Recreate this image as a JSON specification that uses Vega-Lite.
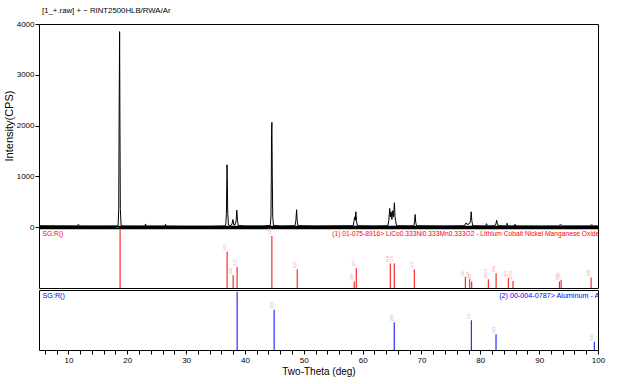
{
  "$schema": "https://vega.github.io/schema/vega-lite/v6.json",
  "background": "white",
  "padding": {"left": 2, "top": 6, "right": 5, "bottom": 5},
  "spacing": 0,
  "bounds": "flush",
  "config": {
    "font": "Liberation Sans",
    "view": {"stroke": "black", "strokeWidth": 1},
    "axis": {"labelColor": "black", "titleColor": "black", "tickColor": "black", "domainColor": "black", "grid": false, "titleFontWeight": "normal", "labelOverlap": false, "labelFlush": false},
    "title": {"fontWeight": "normal", "color": "black"}
  },
  "datasets": {
    "spectrum": [
      {"tt": 5.0, "i": 25}, {"tt": 8.0, "i": 22}, {"tt": 11.5, "i": 20}, {"tt": 11.7, "i": 55}, {"tt": 11.9, "i": 20},
      {"tt": 15.0, "i": 18}, {"tt": 18.2, "i": 20}, {"tt": 18.45, "i": 30}, {"tt": 18.55, "i": 360}, {"tt": 18.62, "i": 2280},
      {"tt": 18.7, "i": 3850}, {"tt": 18.75, "i": 2200}, {"tt": 18.82, "i": 360}, {"tt": 18.95, "i": 30}, {"tt": 19.3, "i": 20},
      {"tt": 22.0, "i": 18}, {"tt": 23.0, "i": 18}, {"tt": 23.1, "i": 60}, {"tt": 23.2, "i": 18}, {"tt": 26.4, "i": 18},
      {"tt": 26.5, "i": 55}, {"tt": 26.6, "i": 18}, {"tt": 30.0, "i": 15}, {"tt": 34.0, "i": 15}, {"tt": 36.6, "i": 20},
      {"tt": 36.75, "i": 60}, {"tt": 36.85, "i": 266}, {"tt": 36.95, "i": 1227}, {"tt": 37.0, "i": 994}, {"tt": 37.08, "i": 266},
      {"tt": 37.2, "i": 40}, {"tt": 37.6, "i": 25}, {"tt": 37.8, "i": 60}, {"tt": 37.95, "i": 147}, {"tt": 38.1, "i": 40},
      {"tt": 38.3, "i": 40}, {"tt": 38.5, "i": 120}, {"tt": 38.62, "i": 332}, {"tt": 38.72, "i": 150}, {"tt": 38.85, "i": 30},
      {"tt": 40.0, "i": 20}, {"tt": 43.0, "i": 20}, {"tt": 44.3, "i": 30}, {"tt": 44.42, "i": 200}, {"tt": 44.48, "i": 950},
      {"tt": 44.52, "i": 1843}, {"tt": 44.58, "i": 2062}, {"tt": 44.65, "i": 950}, {"tt": 44.72, "i": 200}, {"tt": 44.85, "i": 30},
      {"tt": 46.0, "i": 20}, {"tt": 48.5, "i": 25}, {"tt": 48.65, "i": 120}, {"tt": 48.78, "i": 340}, {"tt": 48.88, "i": 120},
      {"tt": 49.0, "i": 25}, {"tt": 52.0, "i": 20}, {"tt": 58.4, "i": 25}, {"tt": 58.55, "i": 130}, {"tt": 58.65, "i": 200},
      {"tt": 58.75, "i": 130}, {"tt": 58.85, "i": 300}, {"tt": 58.95, "i": 130}, {"tt": 59.1, "i": 25}, {"tt": 62.0, "i": 20},
      {"tt": 64.3, "i": 25}, {"tt": 64.45, "i": 130}, {"tt": 64.6, "i": 366}, {"tt": 64.7, "i": 200}, {"tt": 64.85, "i": 300},
      {"tt": 64.97, "i": 150}, {"tt": 65.12, "i": 320}, {"tt": 65.25, "i": 200}, {"tt": 65.4, "i": 477}, {"tt": 65.5, "i": 200},
      {"tt": 65.6, "i": 130}, {"tt": 65.75, "i": 25}, {"tt": 68.0, "i": 22}, {"tt": 68.7, "i": 25}, {"tt": 68.82, "i": 100},
      {"tt": 68.92, "i": 246}, {"tt": 69.02, "i": 100}, {"tt": 69.15, "i": 25}, {"tt": 74.0, "i": 20}, {"tt": 77.3, "i": 25},
      {"tt": 77.45, "i": 60}, {"tt": 77.6, "i": 80}, {"tt": 77.75, "i": 50}, {"tt": 78.05, "i": 60}, {"tt": 78.2, "i": 80},
      {"tt": 78.35, "i": 130}, {"tt": 78.45, "i": 300}, {"tt": 78.55, "i": 130}, {"tt": 78.7, "i": 25}, {"tt": 80.9, "i": 20},
      {"tt": 81.05, "i": 66}, {"tt": 81.2, "i": 20}, {"tt": 82.5, "i": 25}, {"tt": 82.65, "i": 60}, {"tt": 82.78, "i": 133},
      {"tt": 82.9, "i": 60}, {"tt": 83.05, "i": 25}, {"tt": 84.3, "i": 20}, {"tt": 84.45, "i": 50}, {"tt": 84.55, "i": 73},
      {"tt": 84.7, "i": 20}, {"tt": 85.8, "i": 20}, {"tt": 85.9, "i": 55}, {"tt": 86.05, "i": 20}, {"tt": 90.0, "i": 18},
      {"tt": 93.3, "i": 20}, {"tt": 93.5, "i": 40}, {"tt": 93.8, "i": 40}, {"tt": 94.0, "i": 20}, {"tt": 98.6, "i": 20},
      {"tt": 98.8, "i": 40}, {"tt": 99.0, "i": 40}, {"tt": 99.2, "i": 20}, {"tt": 100.0, "i": 20}
    ],
    "nmc": [
      {"tt": 18.78, "rel": 100, "hkl": "003"}, {"tt": 36.97, "rel": 62, "hkl": "101"}, {"tt": 37.99, "rel": 22, "hkl": "006"},
      {"tt": 38.67, "rel": 36, "hkl": "012"}, {"tt": 44.58, "rel": 89, "hkl": "104"}, {"tt": 48.88, "rel": 32, "hkl": "015"},
      {"tt": 58.57, "rel": 11, "hkl": "009"}, {"tt": 58.91, "rel": 34, "hkl": "107"}, {"tt": 64.69, "rel": 42, "hkl": "018"},
      {"tt": 65.37, "rel": 42, "hkl": "110"}, {"tt": 68.78, "rel": 32, "hkl": "113"}, {"tt": 77.45, "rel": 19, "hkl": "021"},
      {"tt": 78.2, "rel": 15, "hkl": "116"}, {"tt": 78.54, "rel": 11, "hkl": "202"}, {"tt": 81.36, "rel": 15, "hkl": "0012"},
      {"tt": 82.68, "rel": 25, "hkl": "024"}, {"tt": 84.76, "rel": 17, "hkl": "205"}, {"tt": 85.56, "rel": 12, "hkl": "1010"},
      {"tt": 93.44, "rel": 11, "hkl": "119"}, {"tt": 93.73, "rel": 14, "hkl": "027"}, {"tt": 98.83, "rel": 18, "hkl": "208"}
    ],
    "al": [
      {"tt": 38.67, "rel": 100, "hkl": "111"}, {"tt": 44.96, "rel": 69, "hkl": "200"}, {"tt": 65.37, "rel": 47.5, "hkl": "220"},
      {"tt": 78.47, "rel": 51, "hkl": "311"}, {"tt": 82.67, "rel": 27, "hkl": "222"}, {"tt": 99.37, "rel": 14, "hkl": "400"}
    ],
    "nmcText": [
      {"tt": 5.6, "v": 92, "txt": "SG:R()"},
      {"tt": 54.83, "v": 92, "txt": "(1) 01-075-8916> LiCo0.333Ni0.333Mn0.333O2 - Lithium Cobalt Nickel Manganese Oxide"}
    ],
    "alText": [
      {"tt": 5.6, "v": 93, "txt": "SG:R()"},
      {"tt": 83.2, "v": 93, "txt": "(2) 00-004-0787> Aluminum - Al"}
    ]
  },
  "vconcat": [
    {
      "width": 559,
      "height": 203,
      "title": {"text": "[1_+.raw] + − RINT2500HLB/RWA/Ar", "anchor": "start", "frame": "group", "fontSize": 7.8, "offset": 5, "dx": 3},
      "data": {"name": "spectrum"},
      "mark": {"type": "line", "color": "black", "strokeWidth": 1, "clip": true},
      "encoding": {
        "x": {"field": "tt", "type": "quantitative", "scale": {"domain": [5, 100], "nice": false, "zero": false},
              "axis": {"title": null, "labels": false, "ticks": false, "domain": true, "domainWidth": 3.5}},
        "y": {"field": "i", "type": "quantitative", "scale": {"domain": [0, 4000], "nice": false},
              "axis": {"values": [0, 1000, 2000, 3000, 4000], "format": "d", "domain": false, "tickSize": 4, "labelFontSize": 8, "labelPadding": 1,
                       "title": "Intensity(CPS)", "titleFontSize": 11, "titlePadding": 3, "minExtent": 22, "maxExtent": 22}}
      }
    },
    {
      "spacing": 2,
      "bounds": "flush",
      "vconcat": [
        {
          "width": 559,
          "height": 61,
          "layer": [
            {
              "data": {"name": "nmc"},
              "mark": {"type": "rule", "color": "#ff0000", "strokeWidth": 1},
              "encoding": {
                "x": {"field": "tt", "type": "quantitative", "scale": {"domain": [5, 100], "nice": false, "zero": false}, "axis": null},
                "y": {"field": "rel", "type": "quantitative", "scale": {"domain": [0, 104], "nice": false}, "axis": null},
                "y2": {"datum": 0}
              }
            },
            {
              "data": {"name": "nmc"},
              "mark": {"type": "text", "angle": 270, "align": "left", "baseline": "bottom", "fontSize": 4, "color": "#f29a9a", "clip": true, "dx": 1},
              "encoding": {
                "x": {"field": "tt", "type": "quantitative"},
                "y": {"field": "rel", "type": "quantitative"},
                "text": {"field": "hkl"}
              }
            },
            {
              "data": {"name": "nmcText"},
              "mark": {"type": "text", "align": "left", "baseline": "middle", "fontSize": 6.7, "color": "#ff0000", "clip": true},
              "encoding": {
                "x": {"field": "tt", "type": "quantitative"},
                "y": {"field": "v", "type": "quantitative"},
                "text": {"field": "txt"}
              }
            }
          ]
        },
        {
          "width": 559,
          "height": 60,
          "layer": [
            {
              "data": {"name": "al"},
              "mark": {"type": "rule", "color": "#0000ff", "strokeWidth": 1},
              "encoding": {
                "x": {"field": "tt", "type": "quantitative", "scale": {"domain": [5, 100], "nice": false, "zero": false},
                      "axis": {"values": [6,8,10,12,14,16,18,20,22,24,26,28,30,32,34,36,38,40,42,44,46,48,50,52,54,56,58,60,62,64,66,68,70,72,74,76,78,80,82,84,86,88,90,92,94,96,98,100],
                               "tickCount": 200, "format": "d",
                               "labelExpr": "datum.value % 10 === 0 ? datum.label : ''", "labelFlush": false, "labelOverlap": false,
                               "domain": false, "tickSize": 4, "labelFontSize": 8, "labelPadding": 2,
                               "title": "Two-Theta (deg)", "titleFontSize": 10, "titlePadding": 2}},
                "y": {"field": "rel", "type": "quantitative", "scale": {"domain": [0, 103], "nice": false}, "axis": null},
                "y2": {"datum": 0}
              }
            },
            {
              "data": {"name": "al"},
              "mark": {"type": "text", "angle": 270, "align": "left", "baseline": "bottom", "fontSize": 4, "color": "#b4b0f0", "clip": true, "dx": 1},
              "encoding": {
                "x": {"field": "tt", "type": "quantitative"},
                "y": {"field": "rel", "type": "quantitative"},
                "text": {"field": "hkl"}
              }
            },
            {
              "data": {"name": "alText"},
              "mark": {"type": "text", "align": "left", "baseline": "middle", "fontSize": 7.2, "color": "#0000ff", "clip": true},
              "encoding": {
                "x": {"field": "tt", "type": "quantitative"},
                "y": {"field": "v", "type": "quantitative"},
                "text": {"field": "txt"}
              }
            }
          ]
        }
      ]
    }
  ]
}
